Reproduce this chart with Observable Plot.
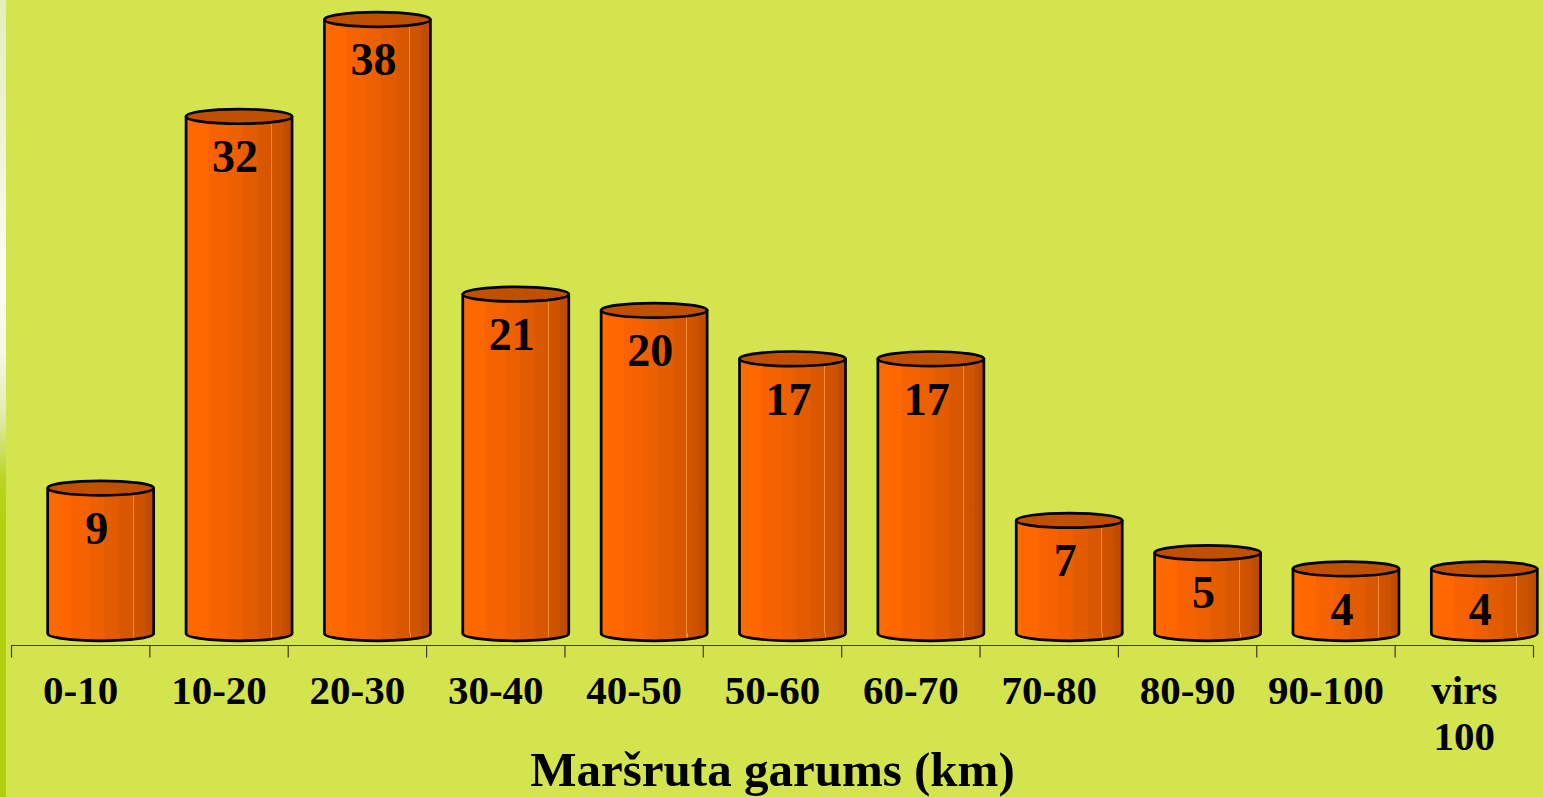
<!DOCTYPE html>
<html>
<head>
<meta charset="utf-8">
<script src="https://cdn.jsdelivr.net/npm/d3@7"></script>
<script src="https://cdn.jsdelivr.net/npm/@observablehq/plot@0.6"></script>
<style>
  html, body { margin: 0; padding: 0; background: #d3e44f; }
  #wrap { position: relative; width: 1543px; height: 797px; overflow: hidden; }
  #strip { position: absolute; left: 0; top: 0; width: 6px; height: 797px;
    background: linear-gradient(to bottom, #e4eebb 0%, #eef4d4 18%, #fbfdf3 34%, #f6f9e6 44%, #e2ecb0 52%, #bcd422 60%, #b3cf10 66%, #b1ce0e 100%);
    z-index: 2; }
</style>
</head>
<body>
<div id="wrap"><div id="strip"></div><div id="chart"></div></div>
<script>
const categories = ["0-10", "10-20", "20-30", "30-40", "40-50", "50-60", "60-70", "70-80", "80-90", "90-100", "virs\n100"];
const values = [9, 32, 38, 21, 20, 17, 17, 7, 5, 4, 4];
const axisTitle = "Maršruta garums (km)";

const table = categories.map((c, i) => ({cat: c, i, value: values[i]}));
const boundaries = d3.range(categories.length + 1);

const FONT = "'Liberation Serif', 'Times New Roman', Times, serif";
const BG = "#d3e44f";

// ellipse symbol for cylinder ends
function ellipseSymbol(rx, ry) {
  const k = 0.5523;
  return {
    draw(ctx) {
      ctx.moveTo(-rx, 0);
      ctx.bezierCurveTo(-rx, -ry * k, -rx * k, -ry, 0, -ry);
      ctx.bezierCurveTo(rx * k, -ry, rx, -ry * k, rx, 0);
      ctx.bezierCurveTo(rx, ry * k, rx * k, ry, 0, ry);
      ctx.bezierCurveTo(-rx * k, ry, -rx, ry * k, -rx, 0);
      ctx.closePath();
    }
  };
}
// short vertical tick below the axis line
const tickSymbol = {
  draw(ctx) { ctx.moveTo(0, 12); ctx.lineTo(0, 24); }
};
const endCap = ellipseSymbol(53, 7.3);
const SHIFT = 20;   // 3D depth offset of the cylinders
const HALF = 53;    // half width of cylinder
const SW = 2.7;

const plot = Plot.plot({
  width: 1543,
  height: 797,
  marginLeft: 11,
  marginRight: 10,
  marginTop: 19,
  marginBottom: 164,
  style: {background: BG, overflow: "visible"},
  x: {type: "linear", domain: [0, categories.length], axis: null},
  y: {type: "linear", domain: [0, 38], axis: null},
  marks: [
    // axis line and boundary ticks
    Plot.ruleY([0], {dy: 12, stroke: "#3a3a2a", strokeWidth: 1.2}),
    Plot.dot(boundaries, {x: d => d, y: () => 0, symbol: tickSymbol, fill: "none", stroke: "#3a3a2a", strokeWidth: 1.2}),
    // bottom caps
    Plot.dot(table, {x: d => d.i + 0.5, y: () => 0, dx: SHIFT, symbol: endCap, fill: "url(#cyl)", stroke: "black", strokeWidth: SW}),
    // bodies
    Plot.rectY(table, {x1: d => d.i, x2: d => d.i + 1, y1: () => 0, y2: "value", dx: SHIFT, insetLeft: 16.2, insetRight: 16.2, fill: "url(#cyl)"}),
    // side edges
    Plot.ruleX(table, {x: d => d.i + 0.5, y1: () => 0, y2: "value", dx: SHIFT - HALF, stroke: "black", strokeWidth: SW}),
    Plot.ruleX(table, {x: d => d.i + 0.5, y1: () => 0, y2: "value", dx: SHIFT + HALF, stroke: "black", strokeWidth: SW}),
    // top caps
    Plot.dot(table, {x: d => d.i + 0.5, y: "value", dx: SHIFT, symbol: endCap, fill: "#c05000", stroke: "black", strokeWidth: SW}),
    // value labels
    Plot.text(table, {x: d => d.i + 0.5, y: "value", text: d => String(d.value), dx: 16, dy: 41, lineAnchor: "middle",
      fontSize: 46, fontWeight: "bold", fontFamily: FONT, fill: "black"}),
    // category labels
    Plot.text(table, {x: d => d.i + 0.5, y: () => 0, text: "cat", dy: 38, lineAnchor: "top", lineHeight: 1.12,
      fontSize: 41, fontWeight: "bold", fontFamily: FONT, fill: "black"}),
    // axis title
    Plot.text([axisTitle], {frameAnchor: "bottom", text: d => d, dy: 137, lineAnchor: "middle",
      fontSize: 49, fontWeight: "bold", fontFamily: FONT, fill: "black"})
  ]
});

// gradient definition for cylinder bodies
const svgNS = "http://www.w3.org/2000/svg";
const defs = document.createElementNS(svgNS, "defs");
defs.innerHTML = `
<linearGradient id="cyl" x1="0" y1="0" x2="1" y2="0">
  <stop offset="0" stop-color="#fb6400"/>
  <stop offset="0.04" stop-color="#ff6a00"/>
  <stop offset="0.22" stop-color="#ff6600"/>
  <stop offset="0.22" stop-color="#f86300"/>
  <stop offset="0.40" stop-color="#f66200"/>
  <stop offset="0.40" stop-color="#ef6000"/>
  <stop offset="0.54" stop-color="#ec5f00"/>
  <stop offset="0.54" stop-color="#e55c00"/>
  <stop offset="0.68" stop-color="#e25b00"/>
  <stop offset="0.68" stop-color="#da5800"/>
  <stop offset="0.805" stop-color="#d75600"/>
  <stop offset="0.805" stop-color="#f08a3a"/>
  <stop offset="0.815" stop-color="#f08a3a"/>
  <stop offset="0.815" stop-color="#d25400"/>
  <stop offset="0.92" stop-color="#cc5200"/>
  <stop offset="0.92" stop-color="#c44e00"/>
  <stop offset="1" stop-color="#bc4a00"/>
</linearGradient>`;
plot.insertBefore(defs, plot.firstChild);

document.getElementById("chart").appendChild(plot);
</script>
</body>
</html>
